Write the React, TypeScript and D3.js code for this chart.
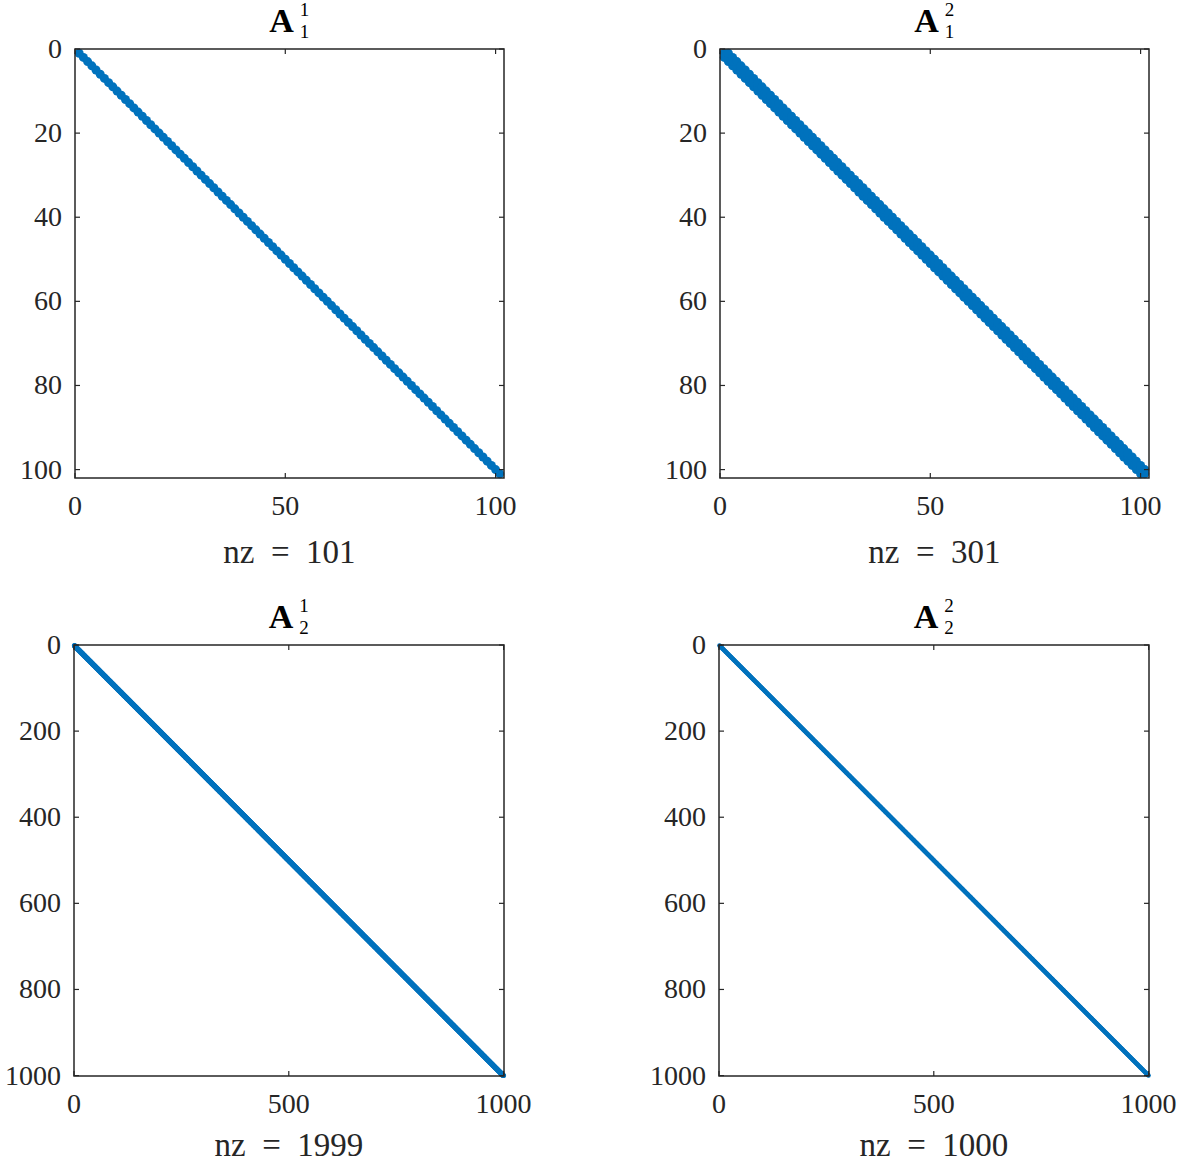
import * as d3 from 'd3';

// matrix structure for each spy panel
const matrixSizes = [101, 101, 1000, 1000];
const diagOffsets = [[0], [-1, 0, 1], [0, -1], [0]];
const titleSub = ['1', '1', '2', '2'];
const titleSup = ['1', '2', '1', '2'];
const nzLabels = ['101', '301', '1999', '1000'];
const xTickValues = [
  [0, 50, 100],
  [0, 50, 100],
  [0, 500, 1000],
  [0, 500, 1000],
];
const yTickValues = [
  [0, 20, 40, 60, 80, 100],
  [0, 20, 40, 60, 80, 100],
  [0, 200, 400, 600, 800, 1000],
  [0, 200, 400, 600, 800, 1000],
];

const boxes = [
  { left: 75, top: 49, w: 429, h: 429, r: 4.5 },
  { left: 720, top: 49, w: 429, h: 429, r: 4.5 },
  { left: 74, top: 645, w: 430, h: 431, r: 2.5 },
  { left: 719, top: 645, w: 430, h: 431, r: 2.2 },
];

const blue = '#0072BD';
const ink = '#262626';
const font = '"Liberation Serif", "Times New Roman", serif';

type Cell = { i: number; j: number };

const buildCells = (n: number, offsets: number[]) => {
  const cells: Cell[] = [];
  offsets.forEach((k) => {
    for (let i = 1; i <= n; i++) {
      const j = i + k;
      if (j >= 1 && j <= n) cells.push({ i, j });
    }
  });
  return cells;
};

const SpyPanel = ({ idx }: { idx: number }) => {
  const n = matrixSizes[idx];
  const b = boxes[idx];
  const x = d3.scaleLinear().domain([0, n + 1]).range([b.left, b.left + b.w]);
  const y = d3.scaleLinear().domain([0, n + 1]).range([b.top, b.top + b.h]);
  const cells = buildCells(n, diagOffsets[idx]);
  const cx = b.left + b.w / 2;
  const tick = 5;

  return (
    <g>
      {/* points */}
      <g fill={blue}>
        {cells.map((c, k) => (
          <circle key={k} cx={x(c.j)} cy={y(c.i)} r={b.r} />
        ))}
      </g>

      {/* box */}
      <rect
        x={b.left}
        y={b.top}
        width={b.w}
        height={b.h}
        fill="none"
        stroke={ink}
        strokeWidth={1.5}
      />

      {/* x ticks */}
      {xTickValues[idx].map((t) => (
        <g key={'x' + t}>
          <line x1={x(t)} x2={x(t)} y1={b.top + b.h} y2={b.top + b.h - tick} stroke={ink} strokeWidth={1.2} />
          <line x1={x(t)} x2={x(t)} y1={b.top} y2={b.top + tick} stroke={ink} strokeWidth={1.2} />
          <text
            x={x(t)}
            y={b.top + b.h + 37}
            textAnchor="middle"
            fontSize={28}
            fontFamily={font}
            fill={ink}
          >
            {t}
          </text>
        </g>
      ))}

      {/* y ticks */}
      {yTickValues[idx].map((t) => (
        <g key={'y' + t}>
          <line x1={b.left} x2={b.left + tick} y1={y(t)} y2={y(t)} stroke={ink} strokeWidth={1.2} />
          <line x1={b.left + b.w} x2={b.left + b.w - tick} y1={y(t)} y2={y(t)} stroke={ink} strokeWidth={1.2} />
          <text
            x={b.left - 13}
            y={y(t) + 9}
            textAnchor="end"
            fontSize={28}
            fontFamily={font}
            fill={ink}
          >
            {t}
          </text>
        </g>
      ))}

      {/* title */}
      <text x={cx - 8} y={b.top - 17} textAnchor="middle" fontSize={34} fontWeight="bold" fontFamily={font} fill="#000">
        A
      </text>
      <text x={cx + 15} y={b.top - 33} textAnchor="middle" fontSize={19} fontFamily={font} fill="#000">
        {titleSup[idx]}
      </text>
      <text x={cx + 15} y={b.top - 11} textAnchor="middle" fontSize={19} fontFamily={font} fill="#000">
        {titleSub[idx]}
      </text>

      {/* xlabel */}
      <text
        x={cx}
        y={b.top + b.h + (idx < 2 ? 85 : 80)}
        textAnchor="middle"
        fontSize={33}
        fontFamily={font}
        fill={ink}
        style={{ whiteSpace: 'pre' }}
      >
        {'nz  =  ' + nzLabels[idx]}
      </text>
    </g>
  );
};

export default function App() {
  return (
    <svg
      width={1181}
      height={1162}
      style={{ position: 'absolute', left: 0, top: 0, background: '#fff' }}
    >
      <rect width={1181} height={1162} fill="#fff" />
      {matrixSizes.map((_, i) => (
        <SpyPanel key={i} idx={i} />
      ))}
    </svg>
  );
}
